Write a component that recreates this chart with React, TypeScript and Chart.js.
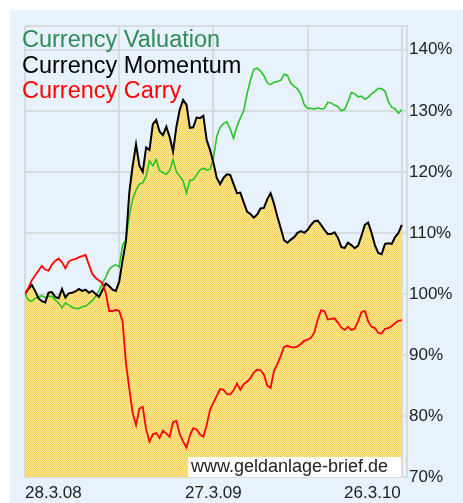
import React, { useEffect, useRef } from "react";
import { Chart, registerables } from "chart.js";

Chart.register(...registerables);

const seriesNames = ["Currency Valuation", "Currency Momentum", "Currency Carry"];
const dateLabels = ["28.3.08", "27.3.09", "26.3.10"];
const labelDays = [0, 364, 728];
const gridDays = [0, 182, 364, 546, 728];
const yTicks = [70, 80, 90, 100, 110, 120, 130, 140];
const watermark = "www.geldanlage-brief.de";

const momentum = [
  100, 100.8, 101.5, 100.5, 99.3, 98.8, 98.6, 100.2, 100.3, 99.5,
  99.3, 100.8, 99.4, 100.1, 100.2, 100.4, 100.8, 100.5, 100.7, 100.2,
  100.5, 100, 99.5, 100.6, 101.7, 101.3, 100.7, 100.5, 102, 105.5,
  108.6, 116.6, 121, 124.5, 121, 120, 124, 123.6, 127.8, 128.5,
  126.6, 126, 127.4, 125.7, 123.3, 127.4, 130.2, 131.8, 131, 127.2,
  127.3, 128.9, 128.8, 129.2, 125.2, 123.6, 121.5, 119, 118, 119,
  119.6, 119.5, 118, 116.5, 116.6, 115, 113.5, 113.1, 112.5, 113,
  114, 114.1, 115.5, 116.5, 114.8, 112.7, 110.8, 108.8, 108.4, 108.9,
  109.3, 110, 110.3, 110, 110.5, 111.3, 111.9, 112, 111.3, 110.5,
  109.8, 109.8, 110.1, 109.2, 107.7, 107.5, 108.4, 108, 107.5, 107.9,
  109.5, 111.3, 111.7, 110, 108, 106.7, 106.5, 108.2, 108.3, 108.2,
  109.3, 110, 111.3,
];

const valuation = [
  100, 99, 98.8, 99.3, 99.5, 99.7, 99.4, 99.6, 99.6, 99,
  98.5, 97.7, 98.5, 98.2, 97.8, 97.6, 97.6, 97.9, 98, 98.4,
  98.9, 99.6, 100.5, 101.8, 102.7, 104, 104.5, 104.8, 104.4, 108,
  108.9, 112.8, 115.5, 117, 118, 118.2, 119.3, 121.8, 121, 122,
  120.2, 119.9, 119.6, 120.2, 122, 120, 119.3, 118.5, 116.5, 118.6,
  118.7, 119.5, 120.3, 120.6, 120.3, 120.4, 122.2, 125.8, 127.3, 127.9,
  128.2, 127, 125.5, 127.5, 128.8, 130, 132.8, 135, 136.8, 137,
  136.5, 135.8, 134.6, 134.3, 134.7, 134.8, 135, 136, 135.8, 134.5,
  134, 133.6, 132.7, 131, 130.4, 130.4, 130.3, 130.5, 130.3, 130.4,
  131.4, 131.3, 130.9, 130.7, 130, 130.2, 131.5, 133, 132.8, 132.3,
  132.4, 131.9, 132.2, 132.8, 133.2, 133.7, 133.6, 133.2, 131.5, 130.6,
  130.3, 129.6, 130.2,
];

const carry = [
  100, 101, 102.2, 103, 103.8, 104.6, 104, 103.8, 104.8, 105.4,
  105.8, 105.2, 104.2, 105.3, 105.6, 105.7, 106, 106.2, 106.4, 104.8,
  103.3, 102.6, 102.2, 101.8, 100.2, 97.2, 97.2, 97.4, 97.2, 95.5,
  88.7, 84.5, 80.5, 78.5, 81.2, 81.5, 77.8, 75.8, 77, 77.2,
  76.4, 77.6, 77.1, 76.6, 79, 79.2, 77, 75.8, 74.8, 76.8,
  78, 77.8, 77, 76.6, 78.5, 81, 82.2, 83.3, 84.4, 84.3,
  83.6, 83.5, 84.2, 85.3, 84.3, 85.2, 85.6, 86.2, 87.1, 87.6,
  87.5, 86.8, 85, 84.6, 87.4, 88.5, 89.8, 91.3, 91.5, 91.3,
  91.2, 91.4, 91.8, 92.3, 92.5, 92.8, 93.7, 95.8, 97.3, 97.2,
  95.8, 95.9, 96, 95.3, 94.5, 94.1, 94.6, 94.1, 94.3, 95.5,
  97, 97.2, 95.5, 94.6, 94.4, 93.6, 93.5, 94.3, 94.4, 94.7,
  95.2, 95.6, 95.7,
];

const LAST_DAY = 728;
const X_MAX = 738;
const Y_MIN = 70;
const Y_MAX = 143.9;
const FONT = "'Liberation Sans', Arial, Helvetica, sans-serif";

const toPoints = (vals: number[]) => {
  const step = LAST_DAY / (vals.length - 1);
  return vals.map((v, i) => ({ x: i * step, y: v }));
};

function makePattern(): CanvasPattern | string {
  const c = document.createElement("canvas");
  c.width = 2;
  c.height = 2;
  const g = c.getContext("2d");
  if (!g) return "#f7d870";
  g.fillStyle = "rgb(247,208,78)";
  g.fillRect(0, 0, 2, 2);
  g.fillStyle = "rgb(250,232,160)";
  g.fillRect(1, 0, 1, 1);
  g.fillRect(0, 1, 1, 1);
  const p = g.createPattern(c, "repeat");
  return p || "#f7d870";
}

const overlayPlugin = {
  id: "overlayTexts",
  afterDatasetsDraw(chart: any) {
    const { ctx, chartArea } = chart;
    ctx.save();
    // watermark box
    const boxRight = chartArea.right - 6;
    const boxW = 213;
    const boxH = 20;
    ctx.fillStyle = "#ffffff";
    ctx.fillRect(boxRight - boxW, chartArea.bottom - boxH, boxW, boxH);
    ctx.fillStyle = "#222222";
    ctx.font = `18px ${FONT}`;
    ctx.textAlign = "left";
    ctx.textBaseline = "alphabetic";
    ctx.fillText(watermark, boxRight - boxW + 3, chartArea.bottom - 5);
    ctx.restore();
  },
  afterDraw(chart: any) {
    const { ctx, chartArea, scales } = chart;
    ctx.save();
    // legend texts
    const colors = ["#2e8b57", "#000000", "#ff0000"];
    ctx.font = `23.5px ${FONT}`;
    ctx.textAlign = "left";
    ctx.textBaseline = "alphabetic";
    seriesNames.forEach((name, i) => {
      ctx.fillStyle = colors[i];
      ctx.fillText(name, chartArea.left - 3, chartArea.top + 21 + i * 25.5);
    });
    // x labels
    ctx.font = `17px ${FONT}`;
    ctx.fillStyle = "#222222";
    ctx.textBaseline = "middle";
    const aligns = ["left", "center", "right"];
    dateLabels.forEach((lab, i) => {
      const px = scales.x.getPixelForValue(labelDays[i]);
      ctx.textAlign = aligns[i];
      ctx.fillText(lab, i === 2 ? px - 1 : px, chartArea.bottom + 16);
    });
    ctx.restore();
  },
};

export default function App() {
  const ref = useRef<HTMLCanvasElement | null>(null);

  useEffect(() => {
    if (!ref.current) return;
    const fillPattern = makePattern();
    const gridColor = "#d6dbe0";
    const chart = new Chart(ref.current, {
      type: "line",
      data: {
        datasets: [
          {
            label: seriesNames[0],
            data: toPoints(valuation),
            borderColor: "#27c427",
            borderWidth: 1.6,
            pointRadius: 0,
            fill: false,
            tension: 0,
            order: 2,
          },
          {
            label: seriesNames[1],
            data: toPoints(momentum),
            borderColor: "#000000",
            borderWidth: 2,
            pointRadius: 0,
            fill: "start",
            backgroundColor: fillPattern as any,
            tension: 0,
            order: 1,
          },
          {
            label: seriesNames[2],
            data: toPoints(carry),
            borderColor: "#ff0000",
            borderWidth: 1.8,
            pointRadius: 0,
            fill: false,
            tension: 0,
            order: 0,
          },
        ],
      },
      options: {
        animation: false,
        responsive: true,
        maintainAspectRatio: false,
        layout: { padding: { left: 15, top: 16, right: 0, bottom: 0 } },
        plugins: {
          legend: { display: false },
          tooltip: { enabled: false },
          filler: { drawTime: "beforeDatasetsDraw" } as any,
        },
        scales: {
          x: {
            type: "linear",
            min: 0,
            max: X_MAX,
            afterBuildTicks: (s: any) => {
              s.ticks = gridDays.map((v) => ({ value: v }));
            },
            afterFit: (s: any) => {
              s.height = 26;
            },
            ticks: { display: false },
            grid: { color: gridColor, lineWidth: 2, drawTicks: false },
            border: { display: true, color: gridColor, width: 2 },
          },
          y: {
            position: "right",
            min: Y_MIN,
            max: Y_MAX,
            afterBuildTicks: (s: any) => {
              s.ticks = [...yTicks, Y_MAX].map((v) => ({ value: v }));
            },
            afterFit: (s: any) => {
              s.width = 56;
            },
            ticks: {
              callback: (v: any) => (yTicks.includes(Number(v)) ? `${v}%` : ""),
              font: { family: FONT, size: 17 },
              color: "#222222",
              padding: 2,
            },
            grid: { color: gridColor, lineWidth: 2, drawTicks: false },
            border: { display: true, color: gridColor, width: 2 },
          },
        },
      },
      plugins: [overlayPlugin],
    });
    return () => chart.destroy();
  }, []);

  return (
    <div
      style={{
        position: "absolute",
        left: 10,
        top: 10,
        width: 453,
        height: 493,
        background: "#e8f2fc",
      }}
    >
      <canvas ref={ref} />
    </div>
  );
}
